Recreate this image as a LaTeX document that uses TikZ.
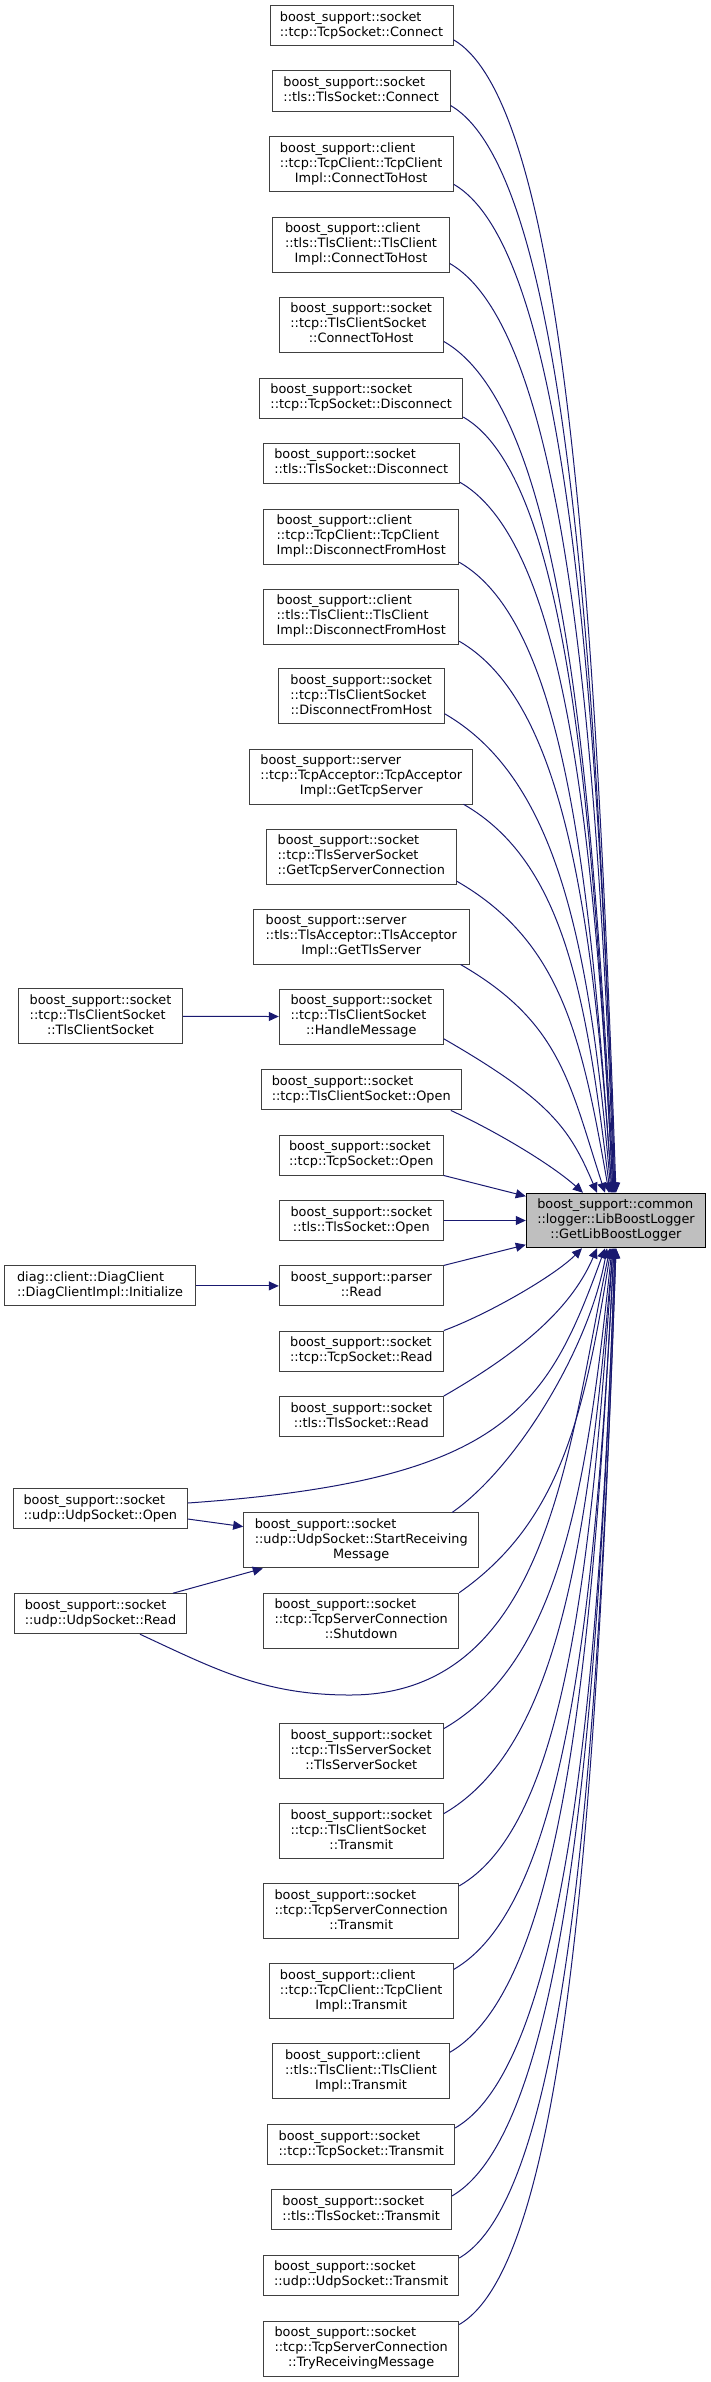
\documentclass[tikz,border=0pt]{standalone}
\usepackage{fontspec}
\setmainfont{DejaVu Sans}
\usetikzlibrary{arrows.meta}
\definecolor{edgecol}{HTML}{191970}
\definecolor{bordcol}{HTML}{404040}
\definecolor{mainfill}{HTML}{BFBFBF}
\newcommand{\Ltwo}[2]{\begin{tabular}{@{}l@{}}#1\\\multicolumn{1}{@{}c@{}}{#2}\end{tabular}}
\newcommand{\Lthree}[3]{\begin{tabular}{@{}l@{}}#1\\#2\\\multicolumn{1}{@{}c@{}}{#3}\end{tabular}}
\begin{document}
\begin{tikzpicture}[x=1pt,y=1pt,
  cbox/.style={draw=bordcol, fill=white, line width=1pt, inner sep=0pt, minimum height=40pt,
     font=\fontsize{12.85pt}{15pt}\selectfont},
  tbox/.style={cbox, minimum height=55pt},
  mainbox/.style={cbox, draw=black, fill=mainfill, minimum height=54.5pt},
  conn/.style={draw=edgecol, line width=1pt, -{Triangle[length=10pt,width=9pt]}}]
\useasboundingbox (0,0) rectangle (711,-2382);

% middle column
\node[cbox, minimum width=183pt] (n1) at (361.5,-26) {\Ltwo{boost\_support::socket}{::tcp::TcpSocket::Connect}};
\node[cbox, minimum width=177.7pt] (n2) at (361.2,-91) {\Ltwo{boost\_support::socket}{::tls::TlsSocket::Connect}};
\node[tbox, minimum width=184.3pt] (n3) at (361.2,-164.4) {\Lthree{boost\_support::client}{::tcp::TcpClient::TcpClient}{Impl::ConnectToHost}};
\node[tbox, minimum width=176.6pt] (n4) at (361,-244.5) {\Lthree{boost\_support::client}{::tls::TlsClient::TlsClient}{Impl::ConnectToHost}};
\node[tbox, minimum width=164.3pt] (n5) at (361.2,-324.5) {\Lthree{boost\_support::socket}{::tcp::TlsClientSocket}{::ConnectToHost}};
\node[cbox, minimum width=203pt] (n6) at (361.2,-398) {\Ltwo{boost\_support::socket}{::tcp::TcpSocket::Disconnect}};
\node[cbox, minimum width=196.3pt] (n7) at (361.2,-463) {\Ltwo{boost\_support::socket}{::tls::TlsSocket::Disconnect}};
\node[tbox, minimum width=195pt] (n8) at (361.2,-536.5) {\Lthree{boost\_support::client}{::tcp::TcpClient::TcpClient}{Impl::DisconnectFromHost}};
\node[tbox, minimum width=195pt] (n9) at (361.2,-616.5) {\Lthree{boost\_support::client}{::tls::TlsClient::TlsClient}{Impl::DisconnectFromHost}};
\node[tbox, minimum width=165.7pt] (n10) at (361.2,-696.4) {\Lthree{boost\_support::socket}{::tcp::TlsClientSocket}{::DisconnectFromHost}};
\node[tbox, minimum width=222.7pt] (n11) at (361.3,-776.7) {\Lthree{boost\_support::server}{::tcp::TcpAcceptor::TcpAcceptor}{Impl::GetTcpServer}};
\node[tbox, minimum width=190pt] (n12) at (361.3,-856.5) {\Lthree{boost\_support::socket}{::tcp::TlsServerSocket}{::GetTcpServerConnection}};
\node[tbox, minimum width=215.7pt] (n13) at (361.2,-936.5) {\Lthree{boost\_support::server}{::tls::TlsAcceptor::TlsAcceptor}{Impl::GetTlsServer}};
\node[tbox, minimum width=164pt] (n14) at (361.3,-1016.5) {\Lthree{boost\_support::socket}{::tcp::TlsClientSocket}{::HandleMessage}};
\node[cbox, minimum width=200.3pt] (n15) at (361.2,-1089.9) {\Ltwo{boost\_support::socket}{::tcp::TlsClientSocket::Open}};
\node[cbox, minimum width=164pt] (n16) at (361.3,-1155) {\Ltwo{boost\_support::socket}{::tcp::TcpSocket::Open}};
\node[cbox, minimum width=164pt] (n17) at (361.3,-1220.5) {\Ltwo{boost\_support::socket}{::tls::TlsSocket::Open}};
\node[cbox, minimum width=164pt] (n18) at (361.3,-1285.9) {\Ltwo{boost\_support::parser}{::Read}};
\node[cbox, minimum width=164pt] (n19) at (361.3,-1351) {\Ltwo{boost\_support::socket}{::tcp::TcpSocket::Read}};
\node[cbox, minimum width=164pt] (n20) at (361.3,-1416.5) {\Ltwo{boost\_support::socket}{::tls::TlsSocket::Read}};
\node[tbox, minimum width=235pt] (n21) at (361.2,-1540.4) {\Lthree{boost\_support::socket}{::udp::UdpSocket::StartReceiving}{Message}};
\node[tbox, minimum width=195pt] (n22) at (361.2,-1620.7) {\Lthree{boost\_support::socket}{::tcp::TcpServerConnection}{::Shutdown}};
\node[tbox, minimum width=164pt] (n23) at (361.3,-1751.3) {\Lthree{boost\_support::socket}{::tcp::TlsServerSocket}{::TlsServerSocket}};
\node[tbox, minimum width=164pt] (n24) at (361.3,-1831) {\Lthree{boost\_support::socket}{::tcp::TlsClientSocket}{::Transmit}};
\node[tbox, minimum width=195pt] (n25) at (361.2,-1911.2) {\Lthree{boost\_support::socket}{::tcp::TcpServerConnection}{::Transmit}};
\node[tbox, minimum width=184.3pt] (n26) at (361.2,-1991) {\Lthree{boost\_support::client}{::tcp::TcpClient::TcpClient}{Impl::Transmit}};
\node[tbox, minimum width=176.6pt] (n27) at (361,-2071.3) {\Lthree{boost\_support::client}{::tls::TlsClient::TlsClient}{Impl::Transmit}};
\node[cbox, minimum width=187pt] (n28) at (361.2,-2144.7) {\Ltwo{boost\_support::socket}{::tcp::TcpSocket::Transmit}};
\node[cbox, minimum width=180.3pt] (n29) at (361.2,-2209.8) {\Ltwo{boost\_support::socket}{::tls::TlsSocket::Transmit}};
\node[cbox, minimum width=195pt] (n30) at (361.2,-2275.2) {\Ltwo{boost\_support::socket}{::udp::UdpSocket::Transmit}};
\node[tbox, minimum width=195pt] (n31) at (361.2,-2348.5) {\Lthree{boost\_support::socket}{::tcp::TcpServerConnection}{::TryReceivingMessage}};

% left column
\node[tbox, minimum width=164.4pt] (tcs) at (100.5,-1016.4) {\Lthree{boost\_support::socket}{::tcp::TlsClientSocket}{::TlsClientSocket}};
\node[cbox, minimum width=191.4pt] (diag) at (100,-1285.9) {\Ltwo{diag::client::DiagClient}{::DiagClientImpl::Initialize}};
\node[cbox, minimum width=174pt] (uopen) at (100.3,-1508.7) {\Ltwo{boost\_support::socket}{::udp::UdpSocket::Open}};
\node[cbox, minimum width=172.4pt] (uread) at (100.5,-1613.7) {\Ltwo{boost\_support::socket}{::udp::UdpSocket::Read}};

% main node
\node[mainbox, minimum width=179.4pt] (main) at (616,-1220.5) {\Lthree{boost\_support::common}{::logger::LibBoostLogger}{::GetLibBoostLogger}};

\coordinate (uvia) at (350,-1695);

% edges from upper nodes
\draw[conn] ([yshift=6.7pt]n1.south east) .. controls +(-30:130pt) and +(92:577pt) .. ([xshift=0pt]main.north);
\draw[conn] ([yshift=6pt]n2.south east) .. controls +(-30:132pt) and +(92:544pt) .. ([xshift=-1pt]main.north);
\draw[conn] ([yshift=8pt]n3.south east) .. controls +(-30:130pt) and +(92:505pt) .. ([xshift=-1pt]main.north);
\draw[conn] ([yshift=9pt]n4.south east) .. controls +(-30:132pt) and +(92:465pt) .. ([xshift=-2pt]main.north);
\draw[conn] ([yshift=11pt]n5.south east) .. controls +(-30:137pt) and +(93:426pt) .. ([xshift=-2pt]main.north);
\draw[conn] ([yshift=1.5pt]n6.south east) .. controls +(-30:120pt) and +(93:388pt) .. ([xshift=-3pt]main.north);
\draw[conn] ([yshift=1.3pt]n7.south east) .. controls +(-30:123pt) and +(93:356pt) .. ([xshift=-3pt]main.north);
\draw[conn] ([yshift=2.3pt]n8.south east) .. controls +(-30:122pt) and +(94:316pt) .. ([xshift=-4pt]main.north);
\draw[conn] ([yshift=3.3pt]n9.south east) .. controls +(-30:122pt) and +(94:276pt) .. ([xshift=-4pt]main.north);
\draw[conn] ([yshift=10.7pt]n10.south east) .. controls +(-30:134pt) and +(95:240pt) .. ([xshift=-5pt]main.north);
\draw[conn] ([xshift=-9.7pt,yshift=0.5pt]n11.south east) .. controls +(-30:118pt) and +(97:195pt) .. ([xshift=-6pt]main.north);
\draw[conn] ([yshift=3.3pt]n12.south east) .. controls +(-30:122pt) and +(100:156pt) .. ([xshift=-7pt]main.north);
\draw[conn] ([xshift=-9pt]n13.south east) .. controls +(-30:116pt) and +(108:115pt) .. ([xshift=-11pt]main.north);
\draw[conn] ([yshift=5.7pt]n14.south east) .. controls +(-30:123pt) and +(113:70pt) .. ([xshift=-19pt]main.north);
\draw[conn] ([xshift=-11pt]n15.south east) .. controls +(-25:55pt) and +(138:40pt) .. ([xshift=-33pt]main.north);
\draw[conn] (n16.south east) -- ([yshift=-3.5pt]main.north west);
\draw[conn] (n17.east) -- (main.west);
\draw[conn] (n18.north east) -- ([yshift=3.5pt]main.south west);

% edges from lower nodes
\draw[conn] (n19.north east) .. controls +(20:45pt) and +(-135:40pt) .. ([xshift=-34pt]main.south);
\draw[conn] (n20.north east) .. controls +(30:80pt) and +(-113:70pt) .. ([xshift=-19pt]main.south);
\draw[conn] ([yshift=5.7pt]uopen.east) .. controls +(4:320pt) and +(-110:170pt) .. ([xshift=-11pt]main.south);
\draw[conn] ([xshift=-27pt]n21.north east) .. controls +(35:80pt) and +(-100:100pt) .. ([xshift=-9pt]main.south);
\draw[conn] ([xshift=39.5pt]uread.south) .. controls +(-25:85pt) and +(180:85pt) .. (uvia) .. controls +(0:200pt) and +(-102:200pt) .. ([xshift=-6pt]main.south);
\draw[conn] (n22.north east) .. controls +(35:122pt) and +(-99:172pt) .. ([xshift=-5pt]main.south);
\draw[conn] ([yshift=-5.3pt]n23.north east) .. controls +(30:135pt) and +(-96:240pt) .. ([xshift=-4pt]main.south);
\draw[conn] ([yshift=-10.6pt]n24.north east) .. controls +(30:136pt) and +(-95:283pt) .. ([xshift=-3pt]main.south);
\draw[conn] ([yshift=-2.7pt]n25.north east) .. controls +(30:123pt) and +(-94:320pt) .. ([xshift=-3pt]main.south);
\draw[conn] ([yshift=-6.3pt]n26.north east) .. controls +(30:129pt) and +(-93:361pt) .. ([xshift=-2pt]main.south);
\draw[conn] ([yshift=-9pt]n27.north east) .. controls +(30:132pt) and +(-93:402pt) .. ([xshift=-2pt]main.south);
\draw[conn] ([yshift=-3.7pt]n28.north east) .. controls +(30:128pt) and +(-92:440pt) .. ([xshift=-1pt]main.south);
\draw[conn] ([yshift=-6.7pt]n29.north east) .. controls +(30:131pt) and +(-92:474pt) .. ([xshift=-1pt]main.south);
\draw[conn] ([yshift=-3.3pt]n30.north east) .. controls +(30:126pt) and +(-92:505pt) .. ([xshift=0pt]main.south);
\draw[conn] ([yshift=-4pt]n31.north east) .. controls +(30:126pt) and +(-92:538pt) .. ([xshift=0pt]main.south);

% edges between left and middle column
\draw[conn] (tcs.east) -- (n14.west);
\draw[conn] (diag.east) -- (n18.west);
\draw[conn] ([yshift=-10.3pt]uopen.east) -- ([yshift=13.8pt]n21.west);
\draw[conn] ([xshift=72.5pt]uread.north) -- ([xshift=19.6pt]n21.south west);
\end{tikzpicture}
\end{document}
